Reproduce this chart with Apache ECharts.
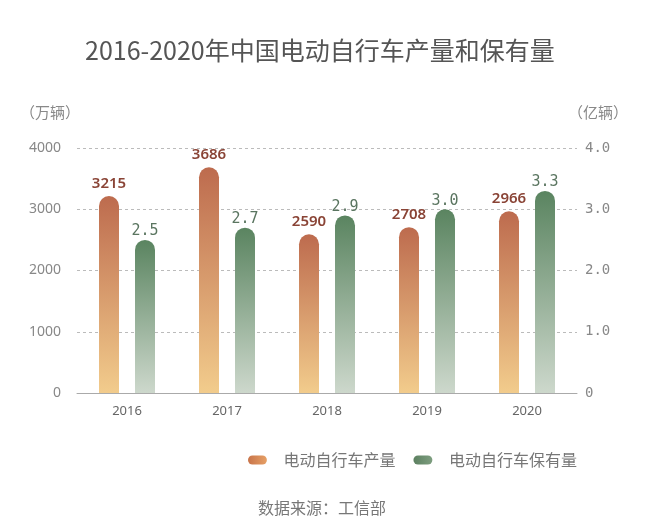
<!DOCTYPE html>
<html>
<head>
<meta charset="utf-8">
<script src="https://cdn.jsdelivr.net/npm/echarts@6/dist/echarts.min.js"></script>
<style>html,body{margin:0;padding:0;background:#fff;}#c{width:660px;height:530px;}</style>
</head>
<body>
<div id="c"></div>
<script>
var categories = ['2016', '2017', '2018', '2019', '2020'];
var production = [3215, 3686, 2590, 2708, 2966];
var ownership = [2.5, 2.7, 2.9, 3.0, 3.3];
var leftTicks = [0, 1000, 2000, 3000, 4000];
var rightTicks = [0, 1.0, 2.0, 3.0, 4.0];

var chart = echarts.init(document.getElementById('c'));
var orangeGrad = new echarts.graphic.LinearGradient(0, 0, 0, 1, [
  {offset: 0, color: '#bd6b4e'}, {offset: 1, color: '#f2cc8c'}]);
var greenGrad = new echarts.graphic.LinearGradient(0, 0, 0, 1, [
  {offset: 0, color: '#5a8460'}, {offset: 1, color: '#cdd8cc'}]);
var legOrange = new echarts.graphic.LinearGradient(0, 0, 1, 0, [
  {offset: 0, color: '#c8744a'}, {offset: 1, color: '#e6a066'}]);
var legGreen = new echarts.graphic.LinearGradient(0, 0, 1, 0, [
  {offset: 0, color: '#5c8060'}, {offset: 1, color: '#7e9e80'}]);
var pill = 'path://M5,0 H16 A5,5 0 0 1 16,10 H5 A5,5 0 0 1 5,0 Z';

chart.setOption({
  backgroundColor: '#fff',
  animation: false,
  title: [{
    text: '2016-2020年中国电动自行车产量和保有量',
    left: 80, top: 33,
    textStyle: {fontFamily: 'Noto Sans CJK SC', fontSize: 25, fontWeight: 'normal', color: '#555'}
  }, {
    text: '数据来源：工信部',
    left: 253, top: 495,
    textStyle: {fontFamily: 'Noto Sans CJK SC', fontSize: 16, fontWeight: 'normal', color: '#777'}
  }],
  legend: {
    top: 447, left: 243,
    itemWidth: 20, itemHeight: 9, itemGap: 18,
    textStyle: {fontFamily: 'Noto Sans CJK SC', fontSize: 16, color: '#777', padding: [0, 0, 0, 11]},
    data: [
      {name: '电动自行车产量', icon: pill, itemStyle: {color: legOrange}},
      {name: '电动自行车保有量', icon: pill, itemStyle: {color: legGreen}}
    ]
  },
  grid: {left: 77, right: 83, top: 148, bottom: 137},
  xAxis: {
    type: 'category', data: categories,
    axisLine: {lineStyle: {color: '#aaa'}},
    axisTick: {show: false},
    axisLabel: {color: '#666', fontSize: 13, fontFamily: 'Noto Sans', margin: 12}
  },
  yAxis: [{
    type: 'value', min: 0, max: 4000, interval: 1000,
    name: '（万辆）', nameLocation: 'end', nameGap: 28,
    nameTextStyle: {color: '#888', fontSize: 15, fontFamily: 'Noto Sans CJK SC', align: 'right', padding: [0, -3, 0, 0]},
    axisLine: {show: false}, axisTick: {show: false},
    axisLabel: {color: '#888', fontSize: 14, fontFamily: 'Noto Sans', margin: 16,
      formatter: function (v) { return String(v); }},
    splitLine: {lineStyle: {color: '#bbb', type: [3, 3]}}
  }, {
    type: 'value', min: 0, max: 4, interval: 1,
    name: '（亿辆）', nameLocation: 'end', nameGap: 28,
    nameTextStyle: {color: '#888', fontSize: 15, fontFamily: 'Noto Sans CJK SC', align: 'left', padding: [0, 0, 0, -9]},
    axisLine: {show: false}, axisTick: {show: false},
    axisLabel: {color: '#888', fontSize: 14, fontFamily: 'DejaVu Sans Mono', margin: 8,
      formatter: function (v) { return v === 0 ? '0' : v.toFixed(1); }},
    splitLine: {show: false}
  }],
  series: [{
    name: '电动自行车产量', type: 'bar', data: production, yAxisIndex: 0,
    barWidth: 20, barGap: '80%',
    itemStyle: {color: orangeGrad, borderRadius: [10, 10, 0, 0]},
    label: {show: true, position: 'top', distance: 5, color: '#8a4436', fontSize: 15, fontWeight: 600, fontFamily: 'Noto Sans'}
  }, {
    name: '电动自行车保有量', type: 'bar', data: ownership, yAxisIndex: 1,
    barWidth: 20,
    itemStyle: {color: greenGrad, borderRadius: [10, 10, 0, 0]},
    label: {show: true, position: 'top', distance: 1, color: '#5a7560', fontSize: 15, fontFamily: 'DejaVu Sans Mono',
      formatter: function (p) { return p.value.toFixed(1); }}
  }]
});
</script>
</body>
</html>
